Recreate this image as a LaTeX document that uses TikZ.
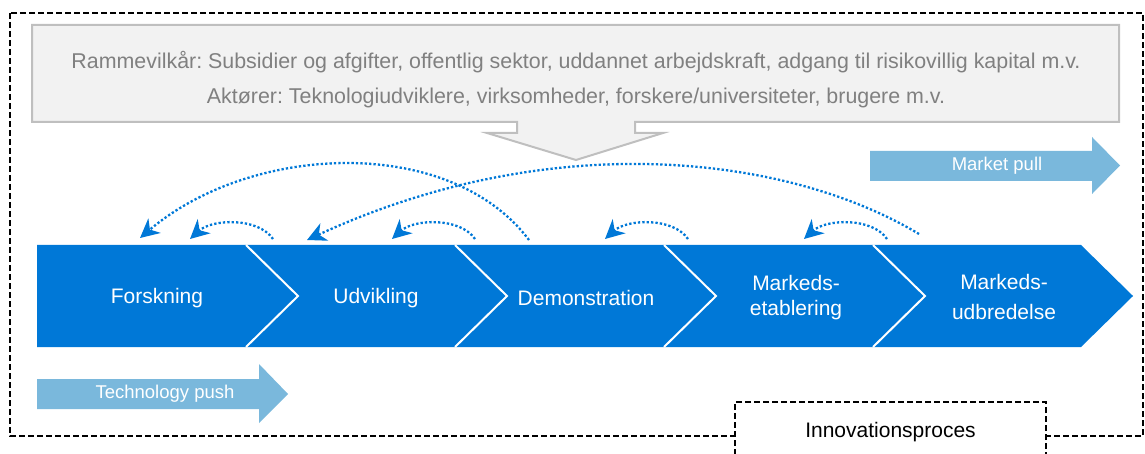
\documentclass[tikz,border=0pt]{standalone}
\usepackage{fontspec}
\setmainfont{Liberation Sans}
\usetikzlibrary{arrows.meta,positioning}

\definecolor{phaseblue}{RGB}{0,120,215}
\definecolor{pushblue}{RGB}{122,184,220}
\definecolor{boxfill}{RGB}{242,242,242}
\definecolor{boxline}{RGB}{191,191,191}
\definecolor{boxtext}{RGB}{128,128,128}

\frenchspacing

\begin{document}
\begin{tikzpicture}[x=1pt, y=-1pt,
    phase/.style={text=white, font=\fontsize{21}{25}\selectfont, align=center},
    pushlabel/.style={text=white, font=\fontsize{18.5}{22}\selectfont},
    feedback/.style={phaseblue, line width=2.3pt, dash pattern=on 2.3pt off 2.1pt,
                     -{Stealth[length=19pt, width=19pt, inset=6pt]}},
    dashframe/.style={draw=black, line width=2.4pt, dash pattern=on 6pt off 3pt},
]
\useasboundingbox (0,0) rectangle (1145,454);
\clip (0,0) rectangle (1145,454);

% ---- outer frame ----
\draw[dashframe] (10,13) rectangle (1143,436);

% ---- framework conditions: grey box pointing down ----
\draw[fill=boxfill, draw=boxline, line width=2pt]
  (32,25) -- (1119,25) -- (1119,122) -- (635,122) -- (635,133) -- (663,133)
  -- (576,160) -- (487,133) -- (517,133) -- (517,122) -- (32,122) -- cycle;
\node[text=boxtext, font=\fontsize{21.4}{35}\selectfont, align=center] (cond) at (576,80)
  {Rammevilkår: Subsidier og afgifter, offentlig sektor, uddannet arbejdskraft, adgang til risikovillig kapital m.v.\\
   Aktører: Teknologiudviklere, virksomheder, forskere/universiteter, brugere m.v.};

% ---- chevron band ----
\fill[phaseblue] (37,245) -- (1081,245) -- (1133,296) -- (1081,347) -- (37,347) -- cycle;
\foreach \x in {246,455,664,873}
  \draw[white, line width=2pt] (\x,245) -- (\x+52,296) -- (\x,347);

\node[phase] (forsk) at (157,298) {Forskning};
\node[phase] (udv)   at (376,298) {Udvikling};
\node[phase] (demo)  at (586,298) {Demonstration};
\node[phase] (etab)  at (796,298) {Markeds-\\etablering};
\node[phase] (udbr)  at (1004,297) {Markeds-\\[5pt]udbredelse};

% ---- feedback loops ----
\foreach \s [count=\i] in {273,475,688,887} {
  \coordinate (fb\i a) at (\s,239);
  \coordinate (fb\i b) at (\s-83,239);
  \draw[feedback] (fb\i a) .. controls +(-15,-22) and +(22,-20) .. (fb\i b);
}
\coordinate (demotop)  at (529,240);
\coordinate (forsktop) at (140,238);
\draw[feedback] (demotop) .. controls (450,135) and (252,143) .. (forsktop);
\coordinate (udbrtop) at (919,234);
\coordinate (udvtop)  at (307,240);
\draw[feedback] (udbrtop) .. controls (789,156) and (554,126) .. (udvtop);

% ---- push / pull ----
\fill[pushblue] (870,151) -- (1092,151) -- (1092,137) -- (1120,165.5)
  -- (1092,194) -- (1092,181) -- (870,181) -- cycle;
\node[pushlabel] (pull) at (997,166) {Market pull};
\fill[pushblue] (37,379) -- (259,379) -- (259,364) -- (288,394)
  -- (259,423) -- (259,409) -- (37,409) -- cycle;
\node[pushlabel] (push) at (165,394) {Technology push};

% ---- label box on the frame ----
\node[dashframe, fill=white, minimum width=311pt, minimum height=60pt,
      font=\fontsize{21}{25}\selectfont] (proc) at (890.5,432) {Innovationsproces};

\end{tikzpicture}
\end{document}
